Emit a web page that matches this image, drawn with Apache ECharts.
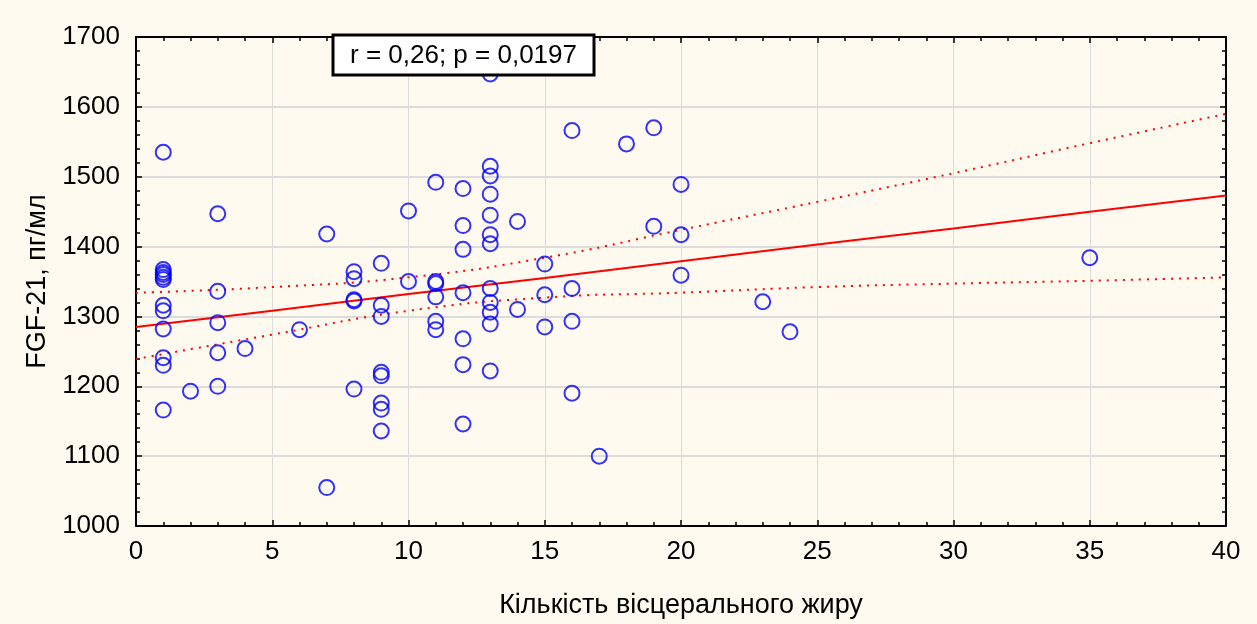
<!DOCTYPE html>
<html>
<head>
<meta charset="utf-8">
<script src="https://cdn.jsdelivr.net/npm/echarts@6/dist/echarts.min.js"></script>
<style>
html,body{margin:0;padding:0;background:#FEFAEF;}
#chart{width:1257px;height:624px;}
</style>
</head>
<body>
<div id="chart"></div>
<script>
// Scatter data: visceral fat amount (x) and FGF-21, pg/ml (y)
const visceralFat = [
  1,1,1,1,1,1,1,1,1,1,1,1,
  2,
  3,3,3,3,3,
  4,
  6,
  7,7,
  8,8,8,8,8,
  9,9,9,9,9,9,9,9,
  10,10,
  11,11,11,11,11,11,
  12,12,12,12,12,12,12,
  13,13,13,13,13,13,13,13,13,13,13,13,
  14,14,
  15,15,15,
  16,16,16,16,
  17,
  18,
  19,19,
  20,20,20,
  23,
  24,
  35
];
const fgf21 = [
  1535,1367,1363,1360,1356,1353,1316,1308,1282,1241,1230,1166,
  1193,
  1447,1336,1291,1248,1200,
  1254,
  1281,
  1418,1055,
  1364,1354,1324,1322,1196,
  1376,1316,1300,1220,1215,1176,1167,1136,
  1451,1350,
  1492,1350,1347,1328,1293,1281,
  1483,1430,1396,1334,1268,1231,1146,
  1647,1515,1501,1475,1445,1417,1404,1340,1320,1306,1289,1222,
  1436,1310,
  1375,1331,1285,
  1566,1340,1293,1190,
  1100,
  1547,
  1570,1429,
  1489,1417,1359,
  1321,
  1278,
  1384
];
// Regression line and 95% confidence bands
const fitX = [0, 5, 10, 15, 20, 25, 30, 35, 40];
const fitLine = [1285, 1308, 1332, 1355, 1379, 1403, 1426, 1450, 1473];
const bandUpper = [1334, 1342, 1356, 1384, 1424, 1464, 1505, 1548, 1590];
const bandLower = [1239, 1274, 1308, 1327, 1334, 1342, 1347, 1351, 1356];
const statText = 'r = 0,26; p = 0,0197';
const xTitle = 'Кількість вісцерального жиру';
const yTitle = 'FGF-21, пг/мл';

const FONT = 'Liberation Sans, Arial, sans-serif';
const zip = (a, b) => a.map((v, i) => [v, b[i]]);

const chart = echarts.init(document.getElementById('chart'), null, {renderer: 'canvas'});

const axisCommon = {
  axisLine: {show: true, onZero: false, lineStyle: {color: '#000', width: 2}},
  axisTick: {show: true, inside: true, length: 6, lineStyle: {color: '#000', width: 1.5}},
  minorTick: {show: true, splitNumber: 5, length: 4, lineStyle: {color: '#000', width: 1.5}},
};

const grid = {left: 136, top: 37, width: 1090, height: 490, containLabel: false};

chart.setOption({
  backgroundColor: '#FEFAEF',
  animation: false,
  grid: grid,
  xAxis: [
    Object.assign({
      type: 'value', min: 0, max: 40, interval: 5, position: 'bottom',
      axisLabel: {color: '#000', fontFamily: FONT, fontSize: 26, margin: 13, formatter: v => String(v)},
      splitLine: {show: true, lineStyle: {color: '#dcdcdc', width: 1}},
      name: xTitle, nameLocation: 'middle', nameGap: 66,
      nameTextStyle: {color: '#000', fontFamily: FONT, fontSize: 27}
    }, axisCommon),
    Object.assign({
      type: 'value', min: 0, max: 40, interval: 5, position: 'top',
      axisLabel: {show: false}, splitLine: {show: false}
    }, axisCommon)
  ],
  yAxis: [
    Object.assign({
      type: 'value', min: 1000, max: 1700, interval: 100, position: 'left',
      axisLabel: {color: '#000', fontFamily: FONT, fontSize: 26, margin: 16, formatter: v => String(v)},
      splitLine: {show: true, lineStyle: {color: '#dcdcdc', width: 2}},
      name: yTitle, nameLocation: 'middle', nameGap: 84, nameRotate: 90,
      nameTextStyle: {color: '#000', fontFamily: FONT, fontSize: 27}
    }, axisCommon),
    Object.assign({
      type: 'value', min: 1000, max: 1700, interval: 100, position: 'right',
      axisLabel: {show: false}, splitLine: {show: false}
    }, axisCommon)
  ],
  series: [
    {
      type: 'line', data: zip(fitX, bandUpper), smooth: true, symbol: 'none',
      lineStyle: {color: '#ff0000', width: 2, type: [2, 6]}, z: 3, silent: true
    },
    {
      type: 'line', data: zip(fitX, bandLower), smooth: true, symbol: 'none',
      lineStyle: {color: '#ff0000', width: 2, type: [2, 6]}, z: 3, silent: true
    },
    {
      type: 'line', data: zip(fitX, fitLine), symbol: 'none',
      lineStyle: {color: '#ff0000', width: 2}, z: 3, silent: true
    },
    {
      type: 'scatter', data: zip(visceralFat, fgf21), symbol: 'circle', symbolSize: 15,
      itemStyle: {color: 'rgba(0,0,0,0)', borderColor: '#0000ff', borderWidth: 2}, z: 4
    }
  ],
  graphic: [
    {type: 'rect', x: 333, y: 35, z: 100, zlevel: 1,
     shape: {x: 0, y: 0, width: 261, height: 40},
     style: {fill: '#ffffff', stroke: '#000', lineWidth: 3}},
    {type: 'text', x: 463.5, y: 56, z: 101, zlevel: 1,
     style: {text: statText, fill: '#000', fontSize: 26, fontFamily: FONT,
             align: 'center', verticalAlign: 'middle',
             textAlign: 'center', textVerticalAlign: 'middle'}}
  ]
});
</script>
</body>
</html>
